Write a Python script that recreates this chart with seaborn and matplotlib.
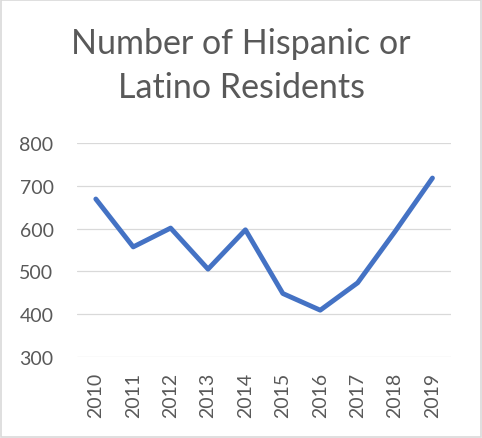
import matplotlib
matplotlib.use("Agg")
import matplotlib.pyplot as plt
import seaborn as sns
import pandas as pd
from matplotlib.patches import Rectangle

years = ["2010", "2011", "2012", "2013", "2014", "2015", "2016", "2017", "2018", "2019"]
residents = [669, 557, 601, 505, 597, 448, 409, 473, 593, 718]
yticks = [300, 400, 500, 600, 700, 800]
title = "Number of Hispanic or\nLatino Residents"

sns.set_theme(style="white")
plt.rcParams["font.family"] = ["Lato", "DejaVu Sans"]

df = pd.DataFrame({"year": years, "residents": residents})

fig = plt.figure(figsize=(4.82, 4.39), dpi=100)
ax = fig.add_axes([0.16, 0.185, 0.776, 0.487])
sns.lineplot(data=df, x="year", y="residents", ax=ax, color="#4472C4",
             linewidth=3.5, solid_capstyle="round", solid_joinstyle="round")

ax.set_xlim(-0.5, len(years) - 0.5)
ax.set_ylim(300, 800)
ax.set_yticks(yticks)
ax.set_yticklabels([str(v) for v in yticks])
ax.grid(axis="y", color="#D9D9D9", linewidth=0.9)
ax.grid(axis="x", visible=False)
ax.set_axisbelow(True)
for s in ax.spines.values():
    s.set_visible(False)
ax.tick_params(axis="y", length=0, pad=17, labelsize=14, labelcolor="#595959")
ax.tick_params(axis="x", length=0, pad=11, labelsize=14, labelcolor="#595959", labelrotation=90)
ax.set_xlabel("")
ax.set_ylabel("")

fig.text(0.5, 0.85, title, ha="center", va="center", fontsize=24.5,
         color="#595959", linespacing=1.45)

fig.patches.append(Rectangle((0.002, 0.002), 0.996, 0.996, transform=fig.transFigure,
                             fill=False, edgecolor="#D9D9D9", linewidth=1.2))

fig.savefig("out.png", dpi=100, facecolor="white")
